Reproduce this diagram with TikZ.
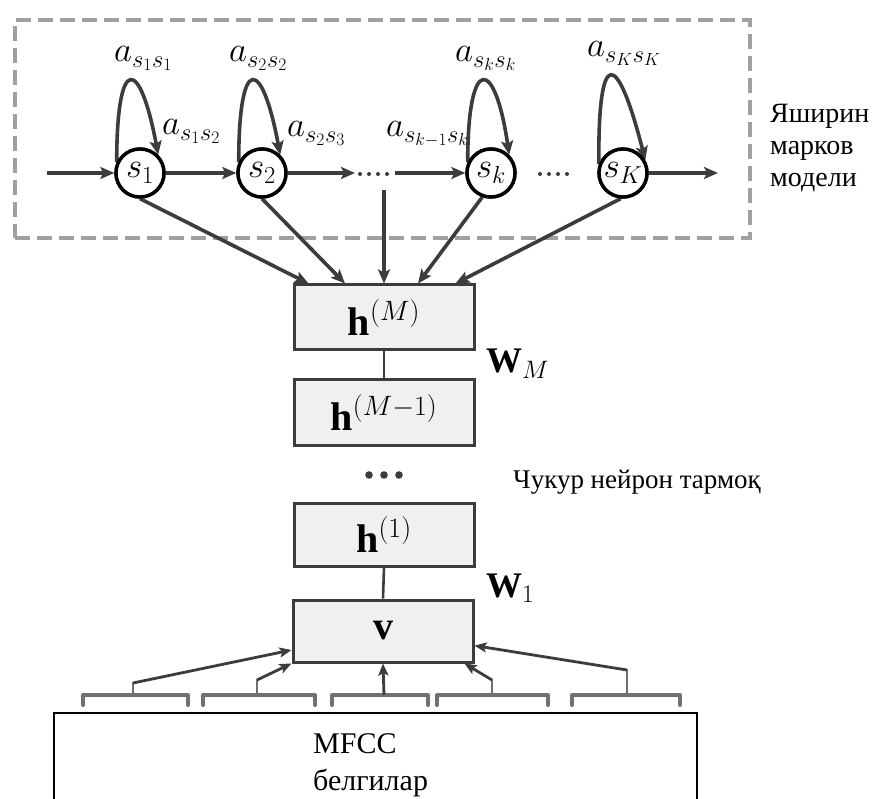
\documentclass[tikz,border=0pt]{standalone}
\usepackage{fix-cm}
\usepackage{fontspec}
\setmainfont{Liberation Serif}
\usetikzlibrary{arrows.meta}
\definecolor{dgray}{HTML}{3C3C3C}
\definecolor{boxfill}{HTML}{F0F0F0}
\definecolor{dashgray}{HTML}{A0A0A0}
\definecolor{brkgray}{HTML}{707070}
\begin{document}
\begin{tikzpicture}[x=1pt,y=-1pt,
  conn/.style={draw=dgray, line width=3.6pt, -{Stealth[length=14pt,width=12pt,inset=3pt]}},
  bconn/.style={draw=dgray, line width=2.8pt, -{Stealth[length=12pt,width=10pt,inset=2.5pt]}},
  plain/.style={draw=dgray, line width=2.6pt},
  brk/.style={draw=brkgray, line width=4pt, line cap=round, line join=round},
  state/.style={circle, draw=black, line width=3.4pt, fill=white, minimum size=48pt, inner sep=0pt, font=\fontsize{35}{35}\selectfont},
  layer/.style={draw=dgray, line width=3pt, fill=boxfill, minimum width=180pt, inner sep=0pt, font=\fontsize{40}{40}\selectfont},
  lab/.style={anchor=base west, inner sep=0pt, font=\fontsize{35}{35}\selectfont},
  wlab/.style={anchor=base west, inner sep=0pt, font=\fontsize{36}{36}\selectfont},
  txt/.style={anchor=base west, inner sep=0pt, font=\fontsize{28}{28}\selectfont},
  mtxt/.style={anchor=base west, inner sep=0pt, font=\fontsize{30}{30}\selectfont},
  dot/.style={fill=dgray}
]
\useasboundingbox (0,0) rectangle (878,799);

% dashed HMM frame
\node[draw=dashgray, line width=4pt, dash pattern=on 15pt off 7pt, minimum width=735pt, minimum height=218pt, inner sep=0pt] (hmm) at (382.5,129) {};

% layers
\node[layer, minimum height=65pt] (hM) at (384,317.5) {$\mathbf{h}^{(M)}$};
\node[layer, minimum height=65pt] (hM1) at (384,412.5) {$\mathbf{h}^{(M-1)}$};
\node[layer, minimum height=63pt] (h1) at (384,534.5) {$\mathbf{h}^{(1)}$};
\node[layer, minimum height=62pt] (v) at (383,631) {$\mathbf{v}$};

\draw[plain] (hM.south) -- (hM1.north);
\draw[plain] (h1.south) -- (v.north);

% vertical dots
\fill[dot] (369,475) circle (3.8pt);
\fill[dot] (384,475) circle (3.8pt);
\fill[dot] (399,475) circle (3.8pt);

% states
\coordinate (in) at (47,173);
\coordinate (d1) at (355,173);
\coordinate (d2) at (395,173);
\coordinate (dv) at (384,190);
\coordinate (out) at (718,173);

\node[state] (s1) at (140,173) {$s_1$};
\node[state] (s2) at (262,173) {$s_2$};
\node[state] (sk) at (491,173) {$s_k$};
\node[state] (sK) at (623,173) {$s_K$};

% arrows to h(M)
\draw[conn] (s1.south) -- ([xshift=16pt]hM.north west);
\draw[conn] (s2.south) -- ([xshift=-39pt]hM.north);
\draw[conn] (dv) -- (hM.north);
\draw[conn] (sk.250) -- ([xshift=34pt]hM.north);
\draw[conn] (sK.265) -- ([xshift=-20pt]hM.north east);

% chain
\draw[conn] (in) -- (s1);
\draw[conn] (s1) -- (s2);
\draw[conn] (s2) -- (d1);
\draw[conn] (d2) -- (sk);
\draw[conn] (sK) -- (out);
\foreach \x in {360,369,378,387} \fill[dot] (\x,174) circle (2pt);
\foreach \x in {540,549,558,567} \fill[dot] (\x,174) circle (2pt);

% self loops (teardrop shape)
\draw[conn] (s1.155) .. controls +(0,-110) and +(-18,-97) .. (s1.45);
\draw[conn] (s2.155) .. controls +(0,-110) and +(-18,-97) .. (s2.45);
\draw[conn] (sk.155) .. controls +(0,-110) and +(-14,-97) .. (sk.45);
\draw[conn] (sK.160) .. controls +(-1,-120) and +(-28,-110) .. (sK.30);
% redraw circles on top
\node[state] at (s1) {$s_1$};
\node[state] at (s2) {$s_2$};
\node[state] at (sk) {$s_k$};
\node[state] at (sK) {$s_K$};

% transition labels
\node[lab] (l11) at (114,62) {$a_{s_1s_1}$};
\node[lab] (l12) at (162,135) {$a_{s_1s_2}$};
\node[lab] (l22) at (229,62) {$a_{s_2s_2}$};
\node[lab] (l23) at (287,137) {$a_{s_2s_3}$};
\node[lab] (lk1) at (386,137) {$a_{s_{k-1}s_k}$};
\node[lab] (lkk) at (455,62) {$a_{s_ks_k}$};
\node[lab] (lKK) at (587,57) {$a_{s_Ks_K}$};

% right labels
\node[txt] (t1) at (770,123) {Яширин};
\node[txt] (t2) at (770,155) {марков};
\node[txt] (t3) at (770,187) {модели};
\node[txt, font=\fontsize{27}{27}\selectfont] (dnn) at (513,488) {Чукур нейрон тармоқ};

% weights
\node[wlab] (wM) at (486,373) {$\mathbf{W}_{M}$};
\node[wlab] (w1) at (486,597) {$\mathbf{W}_{1}$};

% brackets
\draw[brk] (83,705) -- (83,695) -- (188,695) -- (188,705);
\draw[brk] (203,705) -- (203,695) -- (315,695) -- (315,705);
\draw[brk] (332,705) -- (332,695) -- (428,695) -- (428,705);
\draw[brk] (437,705) -- (437,695) -- (548,695) -- (548,705);
\draw[brk] (572,705) -- (572,695) -- (680,695) -- (680,705);
\coordinate (b1) at (133,683);
\coordinate (b2) at (257,680);
\coordinate (b3) at (384,695);
\coordinate (b4) at (492,680);
\coordinate (b5) at (627,670);
\draw[brk, line width=2.5pt] (133,695) -- (b1);
\draw[brk, line width=2.5pt] (257,695) -- (b2);
\draw[brk, line width=2.5pt] (492,695) -- (b4);
\draw[brk, line width=2.5pt] (627,695) -- (b5);
\draw[bconn] (b1) -- (v);
\draw[bconn] (b2) -- (v.south west);
\draw[bconn] (b3) -- (v.south);
\draw[bconn] (b4) -- ([xshift=-10pt]v.south east);
\draw[bconn] (b5) -- (v);

% MFCC box
\draw[black, line width=1.3pt] (54,805) -- (54,713) -- (697,713) -- (697,805);
\node[mtxt] (mf1) at (313,753) {MFCC};
\node[mtxt] (mf2) at (313,790) {белгилар};
\end{tikzpicture}
\end{document}
